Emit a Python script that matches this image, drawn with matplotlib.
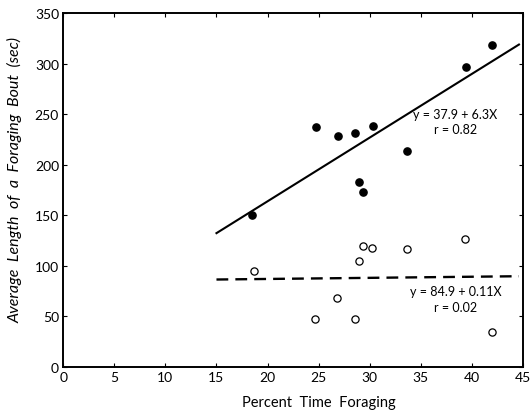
import matplotlib
matplotlib.use("Agg")
import matplotlib.pyplot as plt
import numpy as np

# filled circles: percent time foraging vs. average bout length
filled_x = [18.5, 24.7, 26.9, 28.6, 30.3, 33.6, 28.9, 29.3, 39.4, 42.0]
filled_y = [150, 237, 228, 231, 238, 214, 183, 173, 297, 318]

# open circles
open_x = [18.7, 24.6, 26.8, 28.6, 28.9, 29.3, 30.2, 33.6, 39.3, 42.0]
open_y = [95, 48, 68, 48, 105, 120, 118, 117, 127, 35]

# regression lines (intercept, slope)
fit_filled = (37.9, 6.3)
fit_open = (84.9, 0.11)

xticks = [0, 5, 10, 15, 20, 25, 30, 35, 40, 45]
yticks = [0, 50, 100, 150, 200, 250, 300, 350]

plt.rcParams['font.family'] = ['Lato', 'DejaVu Sans']

fig = plt.figure(figsize=(5.31, 4.14), dpi=100)
ax = fig.add_axes([0.119, 0.111, 0.866, 0.855])

line_x = np.array([15, 44.6])
ax.plot(line_x, fit_filled[0] + fit_filled[1] * line_x, color='black', lw=1.5)
ax.plot(line_x, fit_open[0] + fit_open[1] * line_x, color='black', lw=1.7,
        linestyle=(0, (5, 3)))

ax.plot(filled_x, filled_y, 'o', color='black', markersize=5.2)
ax.plot(open_x, open_y, 'o', mfc='white', mec='black', mew=0.9, markersize=5.2)

ax.text(38.4, 250, 'y = 37.9 + 6.3X', ha='center', va='center', fontsize=9)
ax.text(38.4, 235, 'r = 0.82', ha='center', va='center', fontsize=9)
ax.text(38.4, 75, 'y = 84.9 + 0.11X', ha='center', va='center', fontsize=9)
ax.text(38.4, 59, 'r = 0.02', ha='center', va='center', fontsize=9)

ax.set_xlim(0, 45)
ax.set_ylim(0, 350)
ax.set_xticks(xticks)
ax.set_yticks(yticks)
ax.tick_params(axis='x', direction='in', top=True, length=3, labelsize=10, pad=3)
ax.tick_params(axis='y', direction='in', right=True, length=3, labelsize=10, pad=3)

for s in ax.spines.values():
    s.set_linewidth(1.4)

ax.set_xlabel('Percent  Time  Foraging', fontsize=10.5)
ax.xaxis.set_label_coords(0.555, -0.08)
ax.set_ylabel('Average  Length  of  a  Foraging  Bout  (sec)', fontsize=11.5,
              style='italic')
ax.yaxis.set_label_coords(-0.088, 0.53)

fig.savefig('out.png', dpi=100, facecolor='white')
